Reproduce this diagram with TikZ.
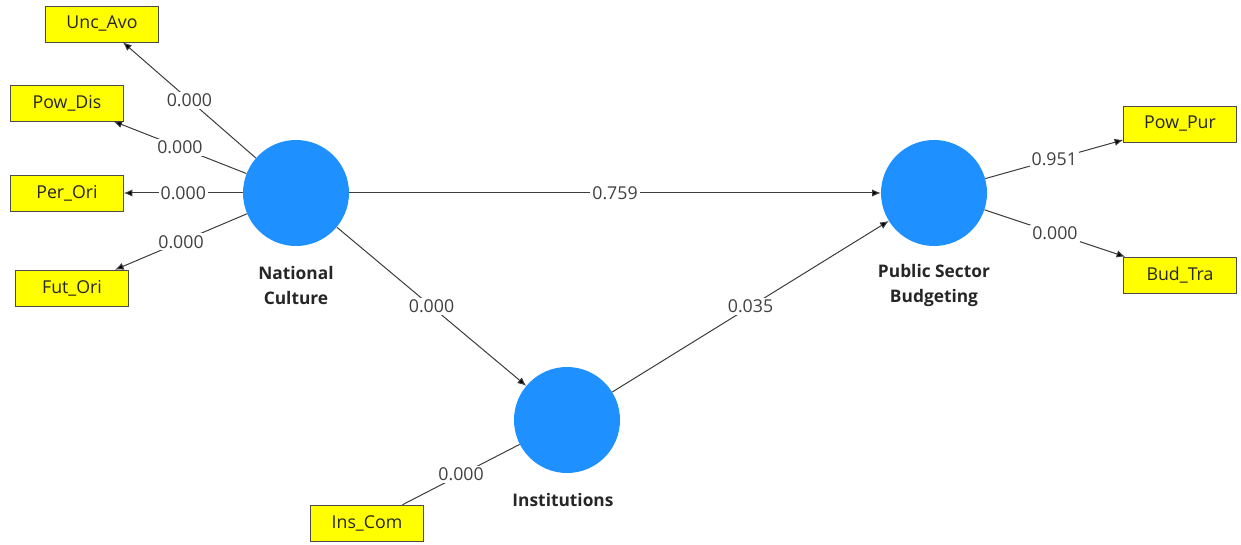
\documentclass[tikz,border=0pt]{standalone}
\usepackage{fontspec}
\setmainfont{Open Sans}
\usepackage{tikz}
\usetikzlibrary{arrows.meta}

\definecolor{lvblue}{RGB}{30,144,255}
\definecolor{mvyellow}{RGB}{255,255,0}
\definecolor{pathgray}{RGB}{60,60,60}

\tikzset{
  latent/.style={circle,fill=lvblue,draw=none,minimum size=79.5pt,inner sep=0pt},
  indic/.style={rectangle,fill=mvyellow,draw=black!70,line width=0.4pt,minimum width=84.75pt,minimum height=27pt,inner sep=0pt,font=\fontsize{13.3}{15}\selectfont,text=black!85},
  lvname/.style={align=center,inner sep=0pt,font=\fontsize{13}{18.75}\selectfont\bfseries,text=black!85},
  conn/.style={draw=pathgray,line width=0.75pt},
  arr/.style={conn,-{Latex[length=6.5pt,width=5.5pt,fill=black]}},
  coef/.style={midway,fill=white,inner sep=1.5pt,font=\fontsize{13.3}{15}\selectfont,text=black!75}
}

\begin{document}
\begin{tikzpicture}[x=0.75pt,y=0.75pt,yscale=-1,xscale=1]
\useasboundingbox (0,0) rectangle (1241,545);

%Shape: Circle [latent variables]
\node [latent] (nc) at (296,193) {};
\node [latent] (inst) at (567,420) {};
\node [latent] (psb) at (934,193) {};

% Text Node
\node [lvname] (ncname) at (296,285) {National\\Culture};
% Text Node
\node [lvname] (instname) at (563,500) {Institutions};
% Text Node
\node [lvname] (psbname) at (934,285) {Public Sector\\Budgeting};

%Shape: Rectangle [indicators]
\node [indic] (unc) at (102,24) {Unc\_Avo};
\node [indic] (powdis) at (67,103) {Pow\_Dis};
\node [indic] (perori) at (67,193) {Per\_Ori};
\node [indic] (futori) at (72,288) {Fut\_Ori};
\node [indic] (inscom) at (367,523) {Ins\_Com};
\node [indic] (powpur) at (1180,124) {Pow\_Pur};
\node [indic] (budtra) at (1180,275) {Bud\_Tra};

%Straight Lines [outer model]
\draw [arr] (nc) -- (unc) node [coef] {0.000};
\draw [arr] (nc) -- (powdis) node [coef] {0.000};
\draw [arr] (nc) -- (perori) node [coef] {0.000};
\draw [arr] (nc) -- (futori) node [coef] {0.000};
\draw [conn] (inst) -- (inscom) node [coef] {0.000};
\draw [arr] (psb) -- (powpur) node [coef] {0.951};
\draw [arr] (psb) -- (budtra) node [coef] {0.000};

%Straight Lines [inner model]
\draw [arr] (nc) -- (psb) node [coef] {0.759};
\draw [arr] (nc) -- (inst) node [coef] {0.000};
\draw [arr] (inst) -- (psb) node [coef] {0.035};
\end{tikzpicture}
\end{document}
